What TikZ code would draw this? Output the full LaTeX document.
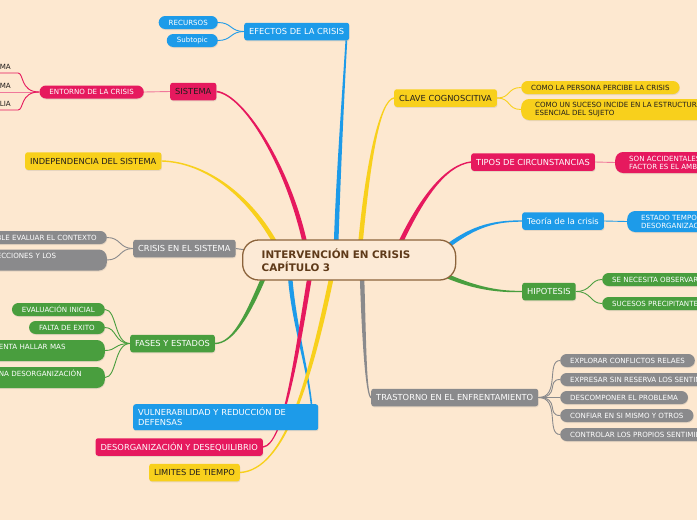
\documentclass[tikz,border=0pt]{standalone}
\usepackage{fontspec}
\setmainfont{DejaVu Sans}
\usetikzlibrary{calc,shadows}
\definecolor{bgc}{RGB}{253,232,208}
\definecolor{centc}{RGB}{252,234,214}
\definecolor{cblue}{RGB}{29,155,233}
\definecolor{cmag}{RGB}{230,25,94}
\definecolor{cpink}{RGB}{240,120,155}
\definecolor{cyel}{RGB}{248,208,28}
\definecolor{cgreen}{RGB}{73,158,62}
\definecolor{cgray}{RGB}{138,138,140}
\definecolor{cbrown}{RGB}{140,100,60}
\definecolor{ctitle}{RGB}{95,58,25}
\definecolor{cdark}{RGB}{34,30,28}
\pgfdeclarelayer{bglayer}
\pgfdeclarelayer{linelayer}
\pgfsetlayers{bglayer,linelayer,main}
\newcommand\mainfs{\fontsize{8.3}{10}\selectfont}
\newcommand\smallfs{\fontsize{7.1}{8}\selectfont}
\newcommand\titlefs{\fontsize{10.4}{13}\selectfont\bfseries}
\newcommand\taper[7]{\fill[#7] ($(#1)!#5!90:(#2)$) .. controls ($(#2)!#5!-90:(#1)$) and ($(#3)!#6!90:(#4)$) .. ($(#4)!#6!-90:(#3)$) -- ($(#4)!#6!90:(#3)$) .. controls ($(#3)!#6!-90:(#4)$) and ($(#2)!#5!90:(#1)$) .. ($(#1)!#5!-90:(#2)$) -- cycle;}
\tikzset{
  shad/.style={drop shadow={opacity=0.18,shadow xshift=0.5pt,shadow yshift=-1pt}},
  mainbox/.style={shad, rounded corners=2.5pt, minimum height=17.5pt, inner xsep=5pt, inner ysep=2pt, font=\mainfs, text=white},
  pill/.style={shad, rounded corners=6.5pt, minimum height=13pt, inner xsep=10pt, inner ysep=1pt, font=\smallfs, text=white},
  pilltwo/.style={pill, rounded corners=8pt, minimum height=21pt, align=left},
  uline/.style={font=\smallfs, text=cdark, inner xsep=0pt, inner ysep=3pt, text width=40pt, align=right},
  subline/.style={line width=0.9pt}
}
\begin{document}
\begin{tikzpicture}[x=1pt,y=-1pt]
\useasboundingbox (0,0) rectangle (697,520);
\begin{pgfonlayer}{bglayer}
\fill[bgc] (0,0) rectangle (697,520);
\end{pgfonlayer}

% centre
\node[draw=cbrown, line width=1.3pt, fill=centc, rounded corners=16pt, anchor=west,
  minimum width=213pt, minimum height=40pt, text width=175pt, inner xsep=19pt,
  align=left, text=ctitle, font=\titlefs] (cen) at (242,260) {INTERVENCIÓN EN CRISIS\\CAPÍTULO 3};

% left / top branches
\node[mainbox, fill=cblue, anchor=west] (efe) at (244,31.5) {EFECTOS DE LA CRISIS};
\node[pill, fill=cblue, anchor=east] (rec) at (218,22.5) {RECURSOS};
\node[pill, fill=cblue, anchor=east] (subt) at (218,40.5) {Subtopic};

\node[mainbox, fill=cmag, text=cdark, anchor=west] (sis) at (170,91.5) {SISTEMA};
\node[pill, fill=cmag, anchor=east] (ent) at (144,92) {ENTORNO DE LA CRISIS};
\node[uline, anchor=south east] (e1) at (18,73) {EMA\hspace*{7pt}};
\node[uline, anchor=south east] (e2) at (18,92) {EMA\hspace*{7pt}};
\node[uline, anchor=south east] (e3) at (18,110) {LIA\hspace*{7pt}};

\node[mainbox, fill=cyel, text=cdark, anchor=west] (ind) at (25,161) {INDEPENDENCIA DEL SISTEMA};

\node[mainbox, fill=cgray, anchor=west] (cri) at (133,248.5) {CRISIS EN EL SISTEMA};
\node[pill, fill=cgray, anchor=east] (cr1) at (107,237.5) {BLE EVALUAR EL CONTEXTO};
\node[pilltwo, fill=cgray, anchor=east, text width=100pt] (cr2) at (107,260) {ECCIONES Y LOS\\\mbox{}};

\node[mainbox, fill=cgreen, anchor=west] (fas) at (130,343.5) {FASES Y ESTADOS};
\node[pill, fill=cgreen, anchor=east] (fa1) at (105,309.5) {EVALUACIÓN INICIAL};
\node[pill, fill=cgreen, anchor=east] (fa2) at (105,327.5) {FALTA DE EXITO};
\node[pilltwo, fill=cgreen, anchor=east, text width=96pt] (fa3) at (105,350.5) {ENTA HALLAR MAS\\\mbox{}};
\node[pilltwo, fill=cgreen, anchor=east, text width=96pt] (fa4) at (105,377.5) {NA DESORGANIZACIÓN\\\mbox{}};

\node[mainbox, fill=cblue, anchor=north west, text width=175pt, align=left, minimum height=26pt] (vul) at (133,404) {VULNERABILIDAD Y REDUCCIÓN DE\\DEFENSAS};
\node[mainbox, fill=cmag, anchor=east] (des) at (263,447) {DESORGANIZACIÓN Y DESEQUILIBRIO};
\node[mainbox, fill=cyel, text=cdark, anchor=east] (lim) at (240,472.5) {LIMITES DE TIEMPO};

% right branches
\node[mainbox, fill=cyel, text=cdark, anchor=west] (cla) at (394,98) {CLAVE COGNOSCITIVA};
\node[pill, fill=cyel, text=cdark, anchor=west] (cl1) at (521,87.5) {COMO LA PERSONA PERCIBE LA CRISIS};
\node[pilltwo, fill=cyel, text=cdark, anchor=west, inner xsep=14pt] (cl2) at (521,109.5) {COMO UN SUCESO INCIDE EN LA ESTRUCTURA\\ESENCIAL DEL SUJETO};

\node[mainbox, fill=cmag, anchor=west] (tip) at (471,162) {TIPOS DE CIRCUNSTANCIAS};
\node[pilltwo, fill=cmag, anchor=west, inner xsep=14pt] (ti1) at (615,162.5) {SON ACCIDENTALES\\FACTOR ES EL AMBIENTE};

\node[mainbox, fill=cblue, anchor=west] (teo) at (522,221) {Teoría de la crisis};
\node[pilltwo, fill=cblue, anchor=west, inner xsep=14pt] (te1) at (627,221.5) {ESTADO TEMPORAL\\DESORGANIZACIÓN};

\node[mainbox, fill=cgreen, anchor=west] (hip) at (522,291.5) {HIPOTESIS};
\node[pill, fill=cgreen, anchor=west] (hi1) at (602,279.5) {SE NECESITA OBSERVAR};
\node[pill, fill=cgreen, anchor=west] (hi2) at (602,303.5) {SUCESOS PRECIPITANTES};

\node[mainbox, fill=cgray, anchor=west] (tra) at (371,397.5) {TRASTORNO EN EL ENFRENTAMIENTO};
\node[pill, fill=cgray, anchor=west] (tr1) at (560,360.5) {EXPLORAR CONFLICTOS RELAES};
\node[pill, fill=cgray, anchor=west] (tr2) at (560,379.5) {EXPRESAR SIN RESERVA LOS SENTIMIENTOS};
\node[pill, fill=cgray, anchor=west] (tr3) at (560,397.5) {DESCOMPONER EL PROBLEMA};
\node[pill, fill=cgray, anchor=west] (tr4) at (560,415.5) {CONFIAR EN SI MISMO Y OTROS};
\node[pill, fill=cgray, anchor=west] (tr5) at (560,434.5) {CONTROLAR LOS PROPIOS SENTIMIENTOS};

% connectors
\begin{pgfonlayer}{linelayer}
\coordinate (a0) at (336,248); \coordinate (a1) at (338,180); \coordinate (a2) at (344,80);
\coordinate (a3) at ($(efe.south east)+(-3,0)$);
\taper{a0}{a1}{a2}{a3}{2.3pt}{0.9pt}{cblue}
\coordinate (b0) at (306,248); \coordinate (b1) at (290,170); \coordinate (b2) at (245,95);
\taper{b0}{b1}{b2}{sis.east}{2.3pt}{0.8pt}{cmag}
\coordinate (c0) at (278,248); \coordinate (c1) at (250,195); \coordinate (c2) at (205,162);
\taper{c0}{c1}{c2}{ind.east}{2.3pt}{0.7pt}{cyel}
\coordinate (d0) at (246,250);
\draw[cgray, line width=1pt] (cri.east) -- (d0);
\coordinate (e0) at (266,272); \coordinate (e1c) at (246,320); \coordinate (e2c) at (232,343);
\taper{e0}{e1c}{e2c}{fas.east}{2.3pt}{0.7pt}{cgreen}
\coordinate (f0) at (290,275); \coordinate (f1) at (293,320); \coordinate (f2) at (308,370);
\coordinate (f3) at ($(vul.north east)+(-7,0)$);
\taper{f0}{f1}{f2}{f3}{2.2pt}{0.8pt}{cblue}
\coordinate (g0) at (310,275); \coordinate (g1) at (296,360); \coordinate (g2) at (283,445);
\taper{g0}{g1}{g2}{des.east}{2.3pt}{0.7pt}{cmag}
\coordinate (h0) at (332,275); \coordinate (h1) at (310,380); \coordinate (h2) at (285,470);
\taper{h0}{h1}{h2}{lim.east}{2.3pt}{0.7pt}{cyel}
\coordinate (i0) at (360,248); \coordinate (i1) at (368,160); \coordinate (i2) at (380,100);
\taper{i0}{i1}{i2}{cla.west}{2.3pt}{0.7pt}{cyel}
\coordinate (j0) at (398,248); \coordinate (j1) at (420,200); \coordinate (j2) at (445,165);
\taper{j0}{j1}{j2}{tip.west}{2.3pt}{0.7pt}{cmag}
\coordinate (k0) at (440,252); \coordinate (k1) at (470,228); \coordinate (k2) at (490,221);
\taper{k0}{k1}{k2}{teo.west}{2.2pt}{0.7pt}{cblue}
\coordinate (l0) at (438,272); \coordinate (l1) at (470,287); \coordinate (l2) at (495,292);
\taper{l0}{l1}{l2}{hip.west}{2.2pt}{0.7pt}{cgreen}
\coordinate (m0) at (362,275); \coordinate (m1) at (364,340); \coordinate (m2) at (366,395);
\taper{m0}{m1}{m2}{tra.west}{2.2pt}{0.8pt}{cgray}

% sub connectors
\draw[subline, cblue] (efe.west) .. controls +(-14,0) and +(14,0) .. (rec.east);
\draw[subline, cblue] (efe.west) .. controls +(-14,0) and +(14,0) .. (subt.east);
\draw[subline, cpink] (ent.east) -- (sis.west);
\draw[subline, cmag] (e1.south west) -- (e1.south east) .. controls (24,73) and (20,92) .. (ent.west);
\draw[subline, cpink] (e2.south west) -- (ent.west);
\draw[subline, cmag] (e3.south west) -- (e3.south east) .. controls (24,110) and (20,92) .. (ent.west);
\draw[subline, cgray] (cri.west) .. controls +(-14,0) and +(14,0) .. (cr1.east);
\draw[subline, cgray] (cri.west) .. controls +(-14,0) and +(14,0) .. (cr2.east);
\foreach \n in {fa1,fa2,fa3,fa4}
  \draw[subline, cgreen] (fas.west) .. controls +(-16,0) and +(12,0) .. (\n.east);
\draw[subline, cyel] (cla.east) .. controls +(14,0) and +(-14,0) .. (cl1.west);
\draw[subline, cyel] (cla.east) .. controls +(14,0) and +(-14,0) .. (cl2.west);
\draw[subline, cpink] (tip.east) -- (ti1.west);
\draw[subline, cblue] (teo.east) -- (te1.west);
\draw[subline, cgreen] (hip.east) .. controls +(16,0) and +(-12,0) .. (hi1.west);
\draw[subline, cgreen] (hip.east) .. controls +(16,0) and +(-12,0) .. (hi2.west);
\foreach \n in {tr1,tr2,tr3,tr4,tr5}
  \draw[subline, cgray] (tra.east) .. controls +(22,0) and +(-14,0) .. (\n.west);
\end{pgfonlayer}
\end{tikzpicture}
\end{document}
